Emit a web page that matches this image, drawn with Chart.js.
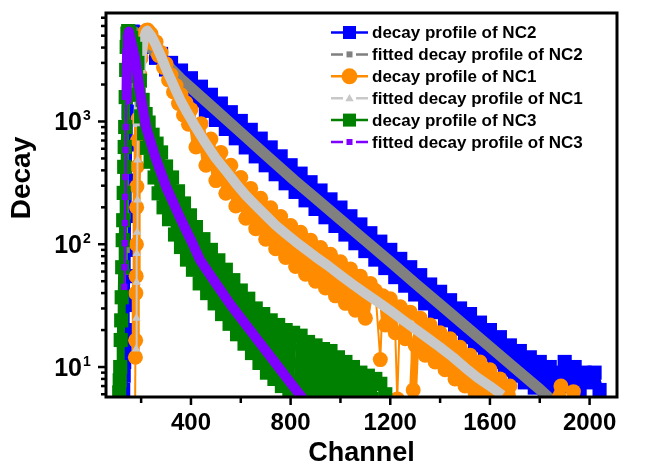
<!DOCTYPE html>
<html>
<head>
<meta charset="utf-8">
<script src="https://cdn.jsdelivr.net/npm/chart.js@4.4.1/dist/chart.umd.min.js"></script>
<style>
  html, body { margin: 0; padding: 0; background: #fff; }
  #wrap { width: 650px; height: 464px; }
</style>
</head>
<body>
<div id="wrap"><canvas id="decaychart" width="650" height="464"></canvas></div>
<script>
const FONT = "'Liberation Sans', Arial, sans-serif";
const BLUE = '#0000FF', GREY = '#808080', ORANGE = '#FF8C00', LIGHTGREY = '#C8C8C8', GREEN = '#008000', PURPLE = '#8000FF';

// NC2 measured decay (blue squares)
const nc2Channel = [128,130,132,134,136,138,140,142,144,146,148,150,152,154,156,160,166,172,180,
  200,220,240,260,280,300,320,340,360,380,400,420,440,460,480,500,520,540,560,580,600,620,640,660,680,700,
  720,740,760,780,800,820,840,860,880,900,920,940,960,980,1000,1020,1040,1060,1080,1100,1120,1140,1160,1180,
  1200,1220,1240,1260,1280,1300,1320,1340,1360,1380,1400,1420,1440,1460,1480,1500,1520,1540,1560,1580,1600,
  1620,1640,1660,1680,1700,1720,1740,1760,1780,1800,1820,1840,1860,1880,1900,1920,1940,1960,1980,2000,2020,2040];
const nc2Counts = [6.5,8.5,11,14,20,32,55,90,170,330,650,1200,2000,3100,4300,5100,5400,5300,5150,
  4950,4050,4250,3300,3550,2650,3000,2150,2600,1780,2250,1480,1920,1220,1650,1030,1400,870,1190,730,1010,615,855,520,725,440,
  615,372,520,314,440,267,376,228,320,194,274,166,232,141,199,120,169,102,145,88,123,75,105,64,
  90,54,76,46,65,39,56,33,47,28,41,24,35,20.5,30,17.5,27,15,23,12.5,20,
  11,17.5,9.5,15,8.5,13.5,7.5,12,6.8,11,6.2,10,6,9,11,7,10,6,9,7.5,9,6.5];

// NC2 fit (grey)
const nc2FitChannel = [140,142,144,146,148,150,155,165,175,200,250,300,356,400,500,600,700,814,900,1000,1100,1200,1300,1400,1500,1600,1700,1800,1850];
const nc2FitCounts = [60,90,170,400,900,1800,3500,5000,5360,4750,3750,2950,2262,1880,1236,813,535,333,237,159,107,72,48,32.3,21.7,14.6,9.8,6.6,5.3];

// NC1 measured decay (orange circles)
const nc1Channel = [172,175,177,178,179,180,181,182,183,184,186,188,191,195,200,205,210,215,220,226,232,
  240,250,260,270,280,290,300,310,320,330,340,350,360,370,380,390,400,
  420,440,460,480,500,520,540,560,580,600,620,640,660,680,700,720,740,760,780,800,820,840,860,880,900,920,940,960,980,1000,1020,1040,1060,1080,1100,1120,1140,
  1160,1170,1180,1200,1220,1228,1240,1260,1280,1292,
  1300,1320,1340,1360,1380,1400,1420,1440,1460,1480,1500,1520,1540,1560,1580,1600,1620,1640,1660,1680,1700,
  1750,1800,1850,1885,1900,1935,1960];
const nc1Counts = [1.5,2.5,12,16.5,40,55,100,200,295,430,700,1050,1600,2400,3300,4200,4850,5300,5500,5550,5350,
  5150,4300,4450,3450,3650,2750,2950,2180,2400,1740,1960,1400,1650,1130,1420,950,1250,
  620,960,440,720,330,560,260,440,205,350,163,285,134,237,110,198,92,168,78,142,66,125,57,108,50,94,44,83,38,72,33,63,29,55,25,48,42,
  11.5,38,22,36,19,5.5,31,17,28,6.5,
  15,25,12.5,22,11,19,9.5,17,8,14.5,7,12.5,6.2,11,5.8,9.5,5,8,5,7,4.5,
  5,4,5,7,4,6.3,3];

// NC1 fit (light grey)
const nc1FitChannel = [180,181,182,183,184,185,186,188,192,198,205,212,218,224,
  240,260,280,300,320,340,360,380,400,420,440,460,480,500,
  540,580,620,660,700,740,780,820,860,900,
  950,1000,1050,1100,1150,1200,1250,1300,1350,1400,1450,1500,1550,1600,1650];
const nc1FitCounts = [14,25,49,84,125,229,486,900,1600,2700,3900,4800,5300,5500,
  5010,4170,3390,2690,2190,1780,1460,1230,1047,891,767,661,575,501,
  398,313,251,207,172,143,122,105,91,79,
  67,56,47,39.8,33.9,28.8,24.2,20.4,17.2,14.5,12.1,9.9,8.2,7.0,5.9];

// NC3 measured decay (green squares)
const nc3Channel = [112,114,116,118,120,122,124,126,128,130,132,134,136,138,140,142,145,148,
  153,156,160,164,168,172,176,180,185,190,195,200,206,212,218,224,230,238,246,254,262,270,280,290,300,
  312,324,336,348,360,372,384,396,408,420,
  435,450,465,480,495,510,525,540,555,570,585,600,615,630,645,660,675,690,705,720,735,750,765,780,795,810,825,840,855,870,
  885,900,915,930,945,960,975,990,1005,1020,1035,1050,1065,1080,1095,1110,1125,1140,1160,1180];
const nc3Counts = [6.2,7.8,10,16.6,24,37,65,108,157,262,427,620,902,1580,2630,4050,5200,5450,
  5200,4300,4800,3500,4300,3000,3900,2350,3000,1650,2150,1100,1500,800,1150,610,980,470,780,350,660,260,560,200,430,
  160,350,120,270,95,215,75,172,62,138,
  48,110,40,90,33,74,27,62,22.5,51,18.5,42,15.5,36,13,30,10.8,27,9,24,8,22,7,20,6.5,19,6,18,5.8,16,
  5.5,15,6,14,5.5,13.5,6,12,5.5,11,6,10,5.5,9,6,8.5,5.5,8,7.3,6];

// NC3 fit (purple)
const nc3FitChannel = [132,133,134,135,136,137,138,139,140,142,144,147,151,175,196,220,256,300,356,408,437,500,560,620,680,740,800,860];
const nc3FitCounts = [45,65,102,149,243,353,586,902,1497,2630,3830,5000,5400,3300,1700,900,520,295,165,100,74,48,32,22.2,15.4,10.7,7.4,5.2];

const X_TICKS = [200,400,600,800,1000,1200,1400,1600,1800,2000];
const X_LABELS = [400,800,1200,1600,2000];
const Y_TICKS = [6,7,8,9,10,20,30,40,50,60,70,80,90,100,200,300,400,500,600,700,800,900,1000,2000,3000,4000,5000,6000,7000];
const Y_LABELS = [10,100,1000];

const LEGEND_ITEMS = [
  { text: 'decay profile of NC2', color: BLUE, marker: 'square', size: 13, gap: false },
  { text: 'fitted decay profile of NC2', color: GREY, marker: 'square', size: 6, gap: true },
  { text: 'decay profile of NC1', color: ORANGE, marker: 'circle', size: 8, gap: false },
  { text: 'fitted decay profile of NC1', color: LIGHTGREY, marker: 'triangle', size: 7, gap: true },
  { text: 'decay profile of NC3', color: GREEN, marker: 'square', size: 13, gap: false },
  { text: 'fitted decay profile of NC3', color: PURPLE, marker: 'square', size: 6, gap: true },
];

function points(xs, ys) {
  return xs.map((x, i) => ({ x, y: ys[i] }));
}

// measured data: dense markers joined by a heavy line, isolated jumps stay thin
function measured(label, xs, ys, color, style, radius, order) {
  return {
    label, data: points(xs, ys), order,
    borderColor: color, backgroundColor: color, borderWidth: 8,
    borderJoinStyle: 'round',
    segment: {
      borderWidth: c => (Math.abs(Math.log10(c.p1.parsed.y / c.p0.parsed.y)) > 0.5 ? 2 : 8),
    },
    pointStyle: style, pointRadius: radius, pointBorderWidth: 0,
    pointBackgroundColor: color, tension: 0, clip: 0,
  };
}

// fits: thin line with small markers on the rise, thick band on the decay
function fitted(label, xs, ys, color, style, radius, thickFrom, thick, order) {
  return {
    label, data: points(xs, ys), order,
    borderColor: color, backgroundColor: color, borderWidth: thick,
    borderJoinStyle: 'round',
    segment: { borderWidth: c => (c.p0DataIndex < thickFrom ? 2 : thick) },
    pointStyle: style, pointBorderWidth: 0, pointBackgroundColor: color,
    pointRadius: c => (c.dataIndex < thickFrom ? radius : 0),
    tension: 0, clip: 0,
  };
}

function drawMarker(ctx, kind, x, y, size, color) {
  ctx.fillStyle = color;
  ctx.beginPath();
  if (kind === 'square') {
    ctx.rect(x - size / 2, y - size / 2, size, size);
  } else if (kind === 'circle') {
    ctx.arc(x, y, size, 0, Math.PI * 2);
  } else {
    ctx.moveTo(x, y - size * 0.6);
    ctx.lineTo(x + size * 0.6, y + size * 0.45);
    ctx.lineTo(x - size * 0.6, y + size * 0.45);
    ctx.closePath();
  }
  ctx.fill();
}

const frameAndAxes = {
  id: 'frameAndAxes',
  afterDatasetsDraw(chart) {
    const { ctx, chartArea: a, scales: { x, y } } = chart;
    ctx.save();
    ctx.strokeStyle = '#000';
    ctx.lineWidth = 2.5;
    X_TICKS.forEach(v => {
      const px = x.getPixelForValue(v);
      const len = X_LABELS.includes(v) ? 8 : 6;
      ctx.beginPath();
      ctx.moveTo(px, a.bottom);
      ctx.lineTo(px, a.bottom + len);
      ctx.stroke();
    });
    Y_TICKS.forEach(v => {
      const py = y.getPixelForValue(v);
      const len = Y_LABELS.includes(v) ? 8 : 5;
      ctx.beginPath();
      ctx.moveTo(a.left, py);
      ctx.lineTo(a.left - len, py);
      ctx.stroke();
    });
    ctx.lineWidth = 3;
    ctx.strokeRect(a.left, a.top, a.right - a.left, a.bottom - a.top);
    ctx.restore();
  },
  afterDraw(chart) {
    const { ctx, chartArea: a, scales: { x, y } } = chart;
    ctx.save();
    ctx.fillStyle = '#000';
    ctx.textBaseline = 'alphabetic';

    ctx.font = `bold 24px ${FONT}`;
    ctx.textAlign = 'center';
    X_LABELS.forEach(v => ctx.fillText(String(v), x.getPixelForValue(v), 430));

    Y_LABELS.forEach(v => {
      const py = y.getPixelForValue(v);
      ctx.font = `bold 25px ${FONT}`;
      ctx.textAlign = 'right';
      ctx.fillText('10', 82, py + 8.5);
      ctx.font = `bold 14px ${FONT}`;
      ctx.textAlign = 'left';
      ctx.fillText(String(Math.round(Math.log10(v))), 83, py - 1.5);
    });

    ctx.font = `bold 27px ${FONT}`;
    ctx.textAlign = 'center';
    ctx.fillText('Channel', (a.left + a.right) / 2, 461);

    ctx.save();
    ctx.translate(30, 178);
    ctx.rotate(-Math.PI / 2);
    ctx.font = `bold 28px ${FONT}`;
    ctx.fillText('Decay', 0, 0);
    ctx.restore();

    // legend
    ctx.font = `bold 17px ${FONT}`;
    ctx.textAlign = 'left';
    ctx.textBaseline = 'middle';
    LEGEND_ITEMS.forEach((item, i) => {
      const ry = 32.5 + i * 21.9;
      ctx.strokeStyle = item.color;
      ctx.lineWidth = 2.5;
      ctx.beginPath();
      if (item.gap) {
        ctx.moveTo(331, ry); ctx.lineTo(343, ry);
        ctx.moveTo(356, ry); ctx.lineTo(368, ry);
      } else {
        ctx.moveTo(331, ry); ctx.lineTo(368, ry);
      }
      ctx.stroke();
      drawMarker(ctx, item.marker, 349.5, ry, item.size, item.color);
      ctx.fillStyle = '#000';
      ctx.fillText(item.text, 372, ry + 1);
    });
    ctx.restore();
  }
};

function drawChart() {
  const datasets = [
    measured('decay profile of NC2', nc2Channel, nc2Counts, BLUE, 'rect', 10, 6),
    fitted('fitted decay profile of NC2', nc2FitChannel, nc2FitCounts, GREY, 'rect', 4.5, 5, 11, 5),
    measured('decay profile of NC1', nc1Channel, nc1Counts, ORANGE, 'circle', 7.5, 4),
    fitted('fitted decay profile of NC1', nc1FitChannel, nc1FitCounts, LIGHTGREY, 'triangle', 5, 7, 10, 3),
    measured('decay profile of NC3', nc3Channel, nc3Counts, GREEN, 'rect', 10, 2),
    fitted('fitted decay profile of NC3', nc3FitChannel, nc3FitCounts, PURPLE, 'rect', 4.5, 8, 10, 1),
  ];

  new Chart(document.getElementById('decaychart'), {
    type: 'line',
    data: { datasets },
    options: {
      responsive: false,
      animation: false,
      devicePixelRatio: 1,
      layout: { padding: { left: 106, right: 33, top: 13, bottom: 67 } },
      scales: {
        x: { type: 'linear', display: false, min: 59, max: 2110 },
        y: { type: 'logarithmic', display: false, min: 5.7, max: 7650 },
      },
      plugins: { legend: { display: false }, tooltip: { enabled: false } },
    },
    plugins: [frameAndAxes],
  });
}

drawChart();
</script>
</body>
</html>
